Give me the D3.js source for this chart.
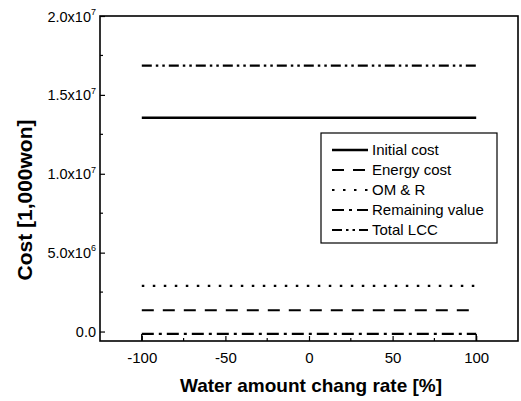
<!DOCTYPE html>
<html>
<head>
<meta charset="utf-8">
<script src="https://cdn.jsdelivr.net/npm/d3@7"></script>
<style>
body { margin: 0; background: #fff; }
text { font-family: Arial, "Liberation Sans", sans-serif; fill: #000; }
</style>
</head>
<body>
<div id="chart"></div>
<script>
var rates = [-100, -75, -50, -25, 0, 25, 50, 75, 100];
var seriesNames = ['Initial cost', 'Energy cost', 'OM & R', 'Remaining value', 'Total LCC'];
var initialCost = [1.355e7, 1.355e7, 1.355e7, 1.355e7, 1.355e7, 1.355e7, 1.355e7, 1.355e7, 1.355e7];
var energyCost = [1.35e6, 1.35e6, 1.35e6, 1.35e6, 1.35e6, 1.35e6, 1.35e6, 1.35e6, 1.35e6];
var omr = [2.9e6, 2.9e6, 2.9e6, 2.9e6, 2.9e6, 2.9e6, 2.9e6, 2.9e6, 2.9e6];
var remainingValue = [-1.5e5, -1.5e5, -1.5e5, -1.5e5, -1.5e5, -1.5e5, -1.5e5, -1.5e5, -1.5e5];
var totalLcc = [1.685e7, 1.685e7, 1.685e7, 1.685e7, 1.685e7, 1.685e7, 1.685e7, 1.685e7, 1.685e7];
var xTicks = [-100, -50, 0, 50, 100];
var yTicks = [0, 5e6, 1e7, 1.5e7, 2e7];
var yTickLabels = ['0.0', '5.0x10|6', '1.0x10|7', '1.5x10|7', '2.0x10|7'];

var width = 521, height = 401;
var margin = {left: 100, right: 3, top: 16, bottom: 60};

var x = d3.scaleLinear().domain([-125, 125]).range([margin.left, width - margin.right]);
var y = d3.scaleLinear().domain([-6e5, 2e7]).range([height - margin.bottom, margin.top]);

var svg = d3.select("#chart").append("svg").attr("width", width).attr("height", height);

var styles = [
    {dash: null, w: 2.4},
    {dash: "12,9", w: 2.2},
    {dash: "2.5,8.5", w: 2.2},
    {dash: "12,5,3,5", w: 2.2},
    {dash: "10,4,2.5,4,2.5,4", w: 2.2}
];
var values = [initialCost, energyCost, omr, remainingValue, totalLcc];

var line = d3.line()
    .x(function (d, i) { return x(rates[i]); })
    .y(function (d) { return y(d); });

values.forEach(function (v, k) {
    svg.append("path")
        .attr("d", line(v))
        .attr("fill", "none")
        .attr("stroke", "#000")
        .attr("stroke-width", styles[k].w)
        .attr("stroke-dasharray", styles[k].dash);
});

// remaining value ends drop down to the axis
[0, rates.length - 1].forEach(function (i) {
    svg.append("line")
        .attr("x1", x(rates[i])).attr("x2", x(rates[i]))
        .attr("y1", y(remainingValue[i])).attr("y2", y.range()[0])
        .attr("stroke", "#000").attr("stroke-width", 1.5);
});

// frame
svg.append("rect")
    .attr("x", margin.left).attr("y", margin.top)
    .attr("width", width - margin.left - margin.right)
    .attr("height", height - margin.top - margin.bottom)
    .attr("fill", "none").attr("stroke", "#000").attr("stroke-width", 1.6);

// x axis ticks (inward)
var xAxis = d3.axisBottom(x).tickValues(xTicks).tickSize(-5).tickPadding(11).tickSizeOuter(0)
    .tickFormat(function (d) { return String(d); });
var gx = svg.append("g").attr("transform", "translate(0," + y.range()[0] + ")").call(xAxis);
gx.select(".domain").remove();
gx.selectAll("line").attr("stroke-width", 1.2);
gx.selectAll("text").attr("font-size", 15);
var xMinor = d3.range(-75, 101, 50);
gx.selectAll(".minor").data(xMinor).enter().append("line")
    .attr("x1", function (d) { return x(d); }).attr("x2", function (d) { return x(d); })
    .attr("y1", 0).attr("y2", -3).attr("stroke", "#000").attr("stroke-width", 1.2);

// y axis ticks (inward)
var yAxis = d3.axisLeft(y).tickValues(yTicks).tickSize(-5).tickPadding(4).tickSizeOuter(0).tickFormat(function () { return ""; });
var gy = svg.append("g").attr("transform", "translate(" + margin.left + ",0)").call(yAxis);
gy.select(".domain").remove();
gy.selectAll("line").attr("stroke-width", 1.2);
gy.selectAll(".tick text").each(function (d, i) {
    var parts = yTickLabels[i].split("|");
    var t = d3.select(this).attr("font-size", 14.5).attr("x", -4).attr("dy", "0.35em");
    t.append("tspan").text(parts[0]);
    if (parts[1]) {
        t.append("tspan").attr("font-size", 9).attr("dy", "-0.75em").text(parts[1]);
    }
});
var yMinor = [2.5e6, 7.5e6, 1.25e7, 1.75e7];
gy.selectAll(".minor").data(yMinor).enter().append("line")
    .attr("x1", 0).attr("x2", 3)
    .attr("y1", function (d) { return y(d); }).attr("y2", function (d) { return y(d); })
    .attr("stroke", "#000").attr("stroke-width", 1.2);

// axis titles
svg.append("text")
    .attr("x", 311).attr("y", 392)
    .attr("text-anchor", "middle").attr("font-size", 19).attr("font-weight", "bold")
    .text("Water amount chang rate [%]");
svg.append("text")
    .attr("transform", "translate(32,200) rotate(-90)")
    .attr("text-anchor", "middle").attr("font-size", 21).attr("font-weight", "bold")
    .text("Cost [1,000won]");

// legend
var lg = svg.append("g");
lg.append("rect")
    .attr("x", 321).attr("y", 133).attr("width", 176).attr("height", 110)
    .attr("fill", "#fff").attr("stroke", "#000").attr("stroke-width", 1.2);
seriesNames.forEach(function (name, k) {
    var yy = 150 + k * 20;
    lg.append("line")
        .attr("x1", 332).attr("x2", 368).attr("y1", yy).attr("y2", yy)
        .attr("stroke", "#000").attr("stroke-width", styles[k].w)
        .attr("stroke-dasharray", styles[k].dash);
    lg.append("text")
        .attr("x", 372).attr("y", yy).attr("dy", "0.35em")
        .attr("font-size", 15).text(name);
});
</script>
</body>
</html>
